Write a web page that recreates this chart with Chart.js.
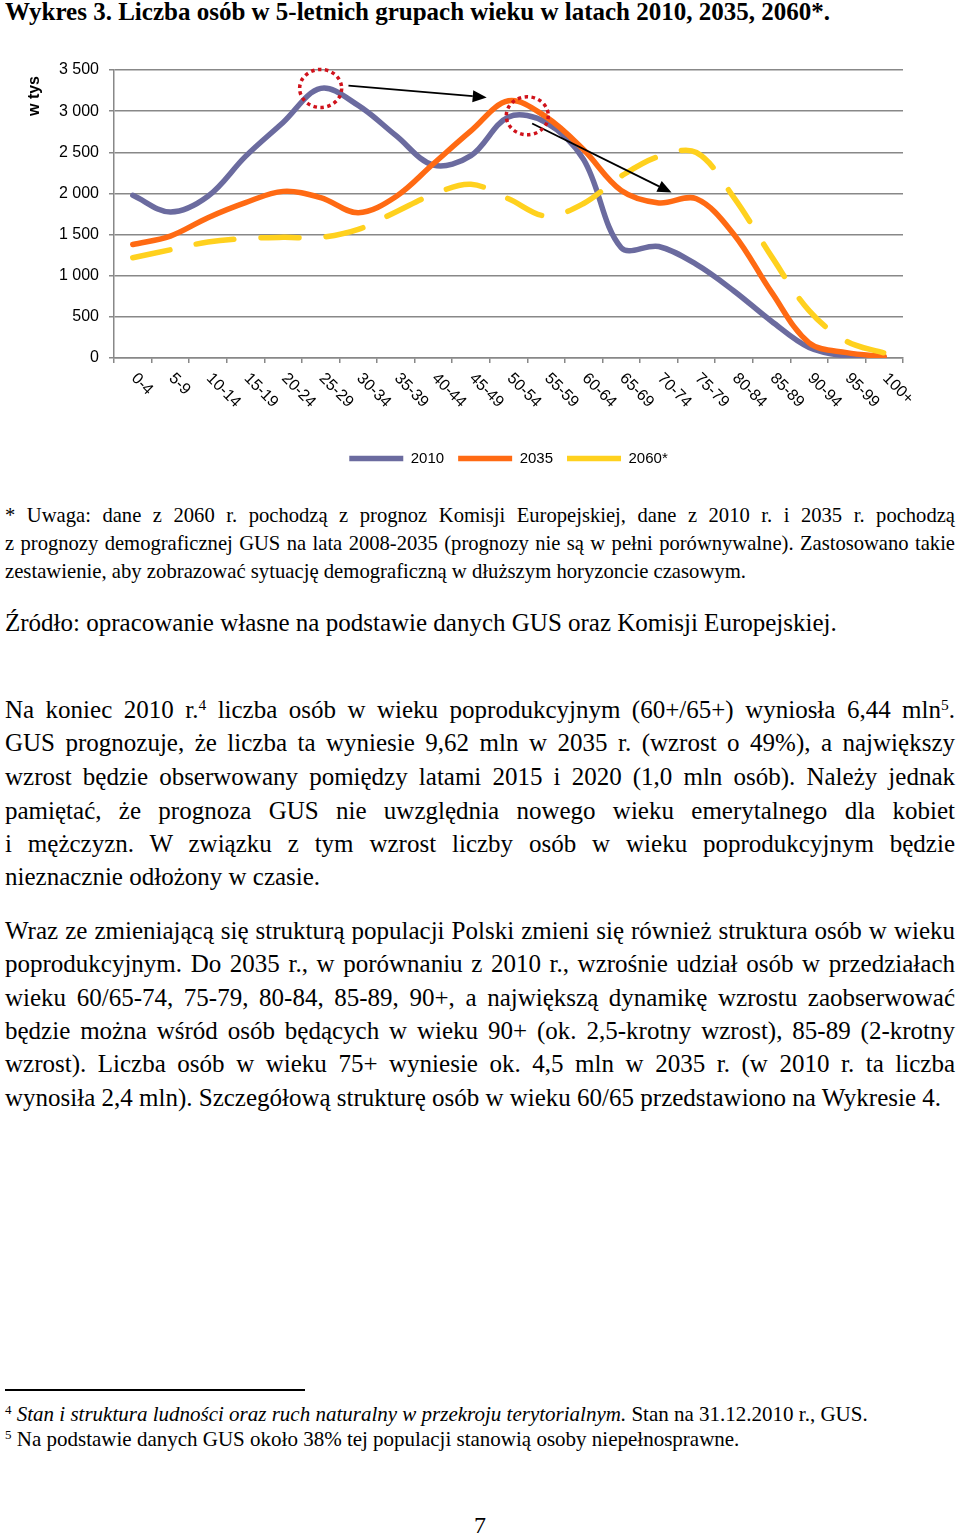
<!DOCTYPE html>
<html>
<head>
<meta charset="utf-8">
<script src="https://cdn.jsdelivr.net/npm/chart.js@4.4.0/dist/chart.umd.min.js"></script>
<style>
  html, body { margin:0; padding:0; background:#fff; }
  body { width:960px; height:1533px; position:relative; overflow:hidden; }
  #wrap { position:absolute; left:0; top:40px; width:960px; height:440px; }
  .ln { position:absolute; left:5px; width:950px; font-family:'Liberation Serif','Times New Roman',serif; color:#000; white-space:normal; }
  .j { text-align:justify; text-align-last:justify; }
  .ln sup { font-size:0.62em; vertical-align:0; position:relative; top:-0.55em; line-height:0; }
  #rule { position:absolute; left:5px; top:1389px; width:300px; height:1.5px; background:#000; }
</style>
</head>
<body>
<div id="wrap"><canvas id="c"></canvas></div>
<div id="rule"></div>
<div id="text"></div>
<script>
// ---- chart data ----
const categories = ['0-4','5-9','10-14','15-19','20-24','25-29','30-34','35-39','40-44','45-49','50-54','55-59','60-64','65-69','70-74','75-79','80-84','85-89','90-94','95-99','100+'];
const seriesLabels = ['2010','2035','2060*'];
const values2010 = [1977,1775,1965,2450,2862,3276,3070,2705,2345,2460,2930,2862,2410,1340,1355,1137,815,447,128,24,6];
const values2035 = [1380,1482,1705,1888,2025,1949,1766,1960,2360,2760,3126,2930,2530,2035,1885,1935,1502,800,185,65,18];
const values2060 = [1218,1315,1410,1453,1466,1466,1563,1775,1989,2111,1935,1725,1878,2210,2450,2497,1949,1235,575,203,61];
const yTickValues = [0,500,1000,1500,2000,2500,3000,3500];
const yAxisTitle = 'w tys';
// annotations (category index, value in thousands)
const highlightCircles = [{x:5, y:3276}, {x:10.5, y:2944}];
const arrowFrom = [[5.74,3309],[10.63,2850]];
const arrowTo = [[9.42,3167],[14.34,2010]];

function fmt(v){
  if (v >= 1000) return Math.floor(v/1000) + ' ' + String(v % 1000).padStart(3,'0');
  return String(v);
}

const xLabelPlugin = {
  id:'xLabels',
  afterDraw(chart){
    const {ctx, scales:{x, y}} = chart;
    ctx.save();
    ctx.font = '16px "Liberation Sans", Arial, sans-serif';
    ctx.fillStyle = '#000';
    ctx.textAlign = 'left';
    ctx.textBaseline = 'middle';
    categories.forEach((c,i)=>{
      const px = x.getPixelForValue(i);
      ctx.save();
      ctx.translate(px + 1, x.top + 18);
      ctx.rotate(Math.PI/4);
      ctx.fillText(c, 0, 0);
      ctx.restore();
    });
    // y axis title
    ctx.save();
    ctx.font = 'bold 16px "Liberation Sans", Arial, sans-serif';
    ctx.textAlign = 'center';
    ctx.textBaseline = 'middle';
    ctx.translate(y.left + 35, chart.chartArea.top + 26);
    ctx.rotate(-Math.PI/2);
    ctx.fillText(yAxisTitle, 0, 0);
    ctx.restore();
    ctx.restore();
  }
};

const overlayPlugin = {
  id:'overlay',
  afterDatasetsDraw(chart){
    const {ctx, scales:{x, y}} = chart;
    ctx.save();
    ctx.strokeStyle = '#000';
    ctx.fillStyle = '#000';
    ctx.lineWidth = 1.8;
    arrowFrom.forEach((f, k)=>{
      const t = arrowTo[k];
      const x1 = x.getPixelForValue(f[0]), y1 = y.getPixelForValue(f[1]);
      const x2 = x.getPixelForValue(t[0]), y2 = y.getPixelForValue(t[1]);
      const ang = Math.atan2(y2-y1, x2-x1);
      const L = 14, W = 6;
      const bx = x2 - L*Math.cos(ang), by = y2 - L*Math.sin(ang);
      ctx.beginPath(); ctx.moveTo(x1,y1); ctx.lineTo(bx,by); ctx.stroke();
      ctx.beginPath();
      ctx.moveTo(x2,y2);
      ctx.lineTo(bx + W*Math.sin(ang), by - W*Math.cos(ang));
      ctx.lineTo(bx - W*Math.sin(ang), by + W*Math.cos(ang));
      ctx.closePath(); ctx.fill();
    });
    ctx.strokeStyle = '#D0121B';
    ctx.lineWidth = 3.5;
    ctx.setLineDash([3.5,3.5]);
    highlightCircles.forEach(h=>{
      const cx = x.getPixelForValue(h.x), cy = y.getPixelForValue(h.y);
      ctx.beginPath(); ctx.ellipse(cx, cy, 21, 19, 0, 0, Math.PI*2); ctx.stroke();
    });
    ctx.restore();
  }
};

Chart.defaults.font.family = '"Liberation Sans", Arial, sans-serif';
Chart.defaults.color = '#000';

const common = { pointRadius:0, pointHoverRadius:0, fill:false, tension:0.35, borderWidth:5.5, borderCapStyle:'round', borderJoinStyle:'round' };

new Chart(document.getElementById('c'), {
  type:'line',
  data:{
    labels: categories,
    datasets:[
      Object.assign({}, common, {label:seriesLabels[0], data:values2010, borderColor:'#6B6B9F', backgroundColor:'#6B6B9F', order:3}),
      Object.assign({}, common, {label:seriesLabels[1], data:values2035, borderColor:'#FF6A13', backgroundColor:'#FF6A13', order:2}),
      Object.assign({}, common, {label:seriesLabels[2], data:values2060, borderColor:'#FFD11E', backgroundColor:'#FFD11E', borderDash:[38,27], order:1})
    ]
  },
  options:{
    responsive:true,
    maintainAspectRatio:false,
    animation:false,
    layout:{ padding:{ left:0, top:30, right:57, bottom:4 } },
    plugins:{
      tooltip:{ enabled:false },
      legend:{
        position:'bottom',
        fullSize:false,
        labels:{
          usePointStyle:true,
          pointStyle:'line',
          pointStyleWidth:54,
          boxHeight:15,
          padding:14,
          color:'#000',
          font:{ size:15, family:'"Liberation Sans", Arial, sans-serif' },
          sort:(a,b)=>a.datasetIndex - b.datasetIndex
        }
      }
    },
    scales:{
      x:{
        type:'category',
        offset:true,
        grid:{ display:true, drawOnChartArea:false, drawTicks:true, tickLength:5, offset:true, color:'#888', lineWidth:1.5 },
        border:{ display:true, color:'#888', width:1.5 },
        ticks:{ display:false },
        afterFit(s){ s.height = 79; }
      },
      y:{
        min:0, max:3500,
        afterBuildTicks(s){ s.ticks = yTickValues.map(v=>({value:v})); },
        ticks:{ font:{ size:16 }, color:'#000', padding:10, callback:(v)=>fmt(v) },
        grid:{ color:'#888', lineWidth:1.5, tickLength:5 },
        border:{ display:true, color:'#888', width:1.5 },
        afterFit(s){ s.width = 114; }
      }
    }
  },
  plugins:[overlayPlugin, xLabelPlugin]
});

// ---- page text ----
const textLines = [
  {y:12, s:25, b:true, h:'Wykres 3. Liczba osób w 5-letnich grupach wieku w latach 2010, 2035, 2060*.'},
  {y:516, s:20.6, j:true, h:'* Uwaga: dane z 2060 r. pochodzą z prognoz Komisji Europejskiej, dane z 2010 r. i 2035 r. pochodzą'},
  {y:544, s:20.6, j:true, h:'z prognozy demograficznej GUS na lata 2008-2035 (prognozy nie są w pełni porównywalne). Zastosowano takie'},
  {y:572, s:20.7, h:'zestawienie, aby zobrazować sytuację demograficzną w dłuższym horyzoncie czasowym.'},
  {y:623, s:25, h:'Źródło: opracowanie własne na podstawie danych GUS oraz Komisji Europejskiej.'},
  {y:710, s:25, j:true, h:'Na koniec 2010 r.<sup>4</sup> liczba osób w wieku poprodukcyjnym (60+/65+) wyniosła 6,44 mln<sup>5</sup>.'},
  {y:743, s:25, j:true, h:'GUS prognozuje, że liczba ta wyniesie 9,62 mln w 2035 r. (wzrost o 49%), a największy'},
  {y:777, s:25, j:true, h:'wzrost będzie obserwowany pomiędzy latami 2015 i 2020 (1,0 mln osób). Należy jednak'},
  {y:811, s:25, j:true, h:'pamiętać, że prognoza GUS nie uwzględnia nowego wieku emerytalnego dla kobiet'},
  {y:844, s:25, j:true, h:'i mężczyzn. W związku z tym wzrost liczby osób w wieku poprodukcyjnym będzie'},
  {y:877, s:25, h:'nieznacznie odłożony w czasie.'},
  {y:931, s:25, j:true, h:'Wraz ze zmieniającą się strukturą populacji Polski zmieni się również struktura osób w wieku'},
  {y:964, s:25, j:true, h:'poprodukcyjnym. Do 2035 r., w porównaniu z 2010 r., wzrośnie udział osób w przedziałach'},
  {y:998, s:25, j:true, h:'wieku 60/65-74, 75-79, 80-84, 85-89, 90+, a największą dynamikę wzrostu zaobserwować'},
  {y:1031, s:25, j:true, h:'będzie można wśród osób będących w wieku 90+ (ok. 2,5-krotny wzrost), 85-89 (2-krotny'},
  {y:1064, s:25, j:true, h:'wzrost). Liczba osób w wieku 75+ wyniesie ok. 4,5 mln w 2035 r. (w 2010 r. ta liczba'},
  {y:1098, s:25, h:'wynosiła 2,4 mln). Szczegółową strukturę osób w wieku 60/65 przedstawiono na Wykresie 4.'},
  {y:1415, s:21, h:'<sup>4</sup> <i>Stan i struktura ludności oraz ruch naturalny w przekroju terytorialnym.</i> Stan na 31.12.2010 r., GUS.'},
  {y:1440, s:21, h:'<sup>5</sup> Na podstawie danych GUS około 38% tej populacji stanowią osoby niepełnosprawne.'},
  {y:1525, s:24, c:true, h:'7'}
];
const host = document.getElementById('text');
textLines.forEach(t=>{
  const d = document.createElement('div');
  d.className = 'ln' + (t.j ? ' j' : '');
  d.style.fontSize = t.s + 'px';
  d.style.lineHeight = t.s + 'px';
  d.style.top = (t.y - 0.51*t.s) + 'px';
  if (t.b) d.style.fontWeight = 'bold';
  if (t.c) { d.style.left = '0px'; d.style.width = '960px'; d.style.textAlign = 'center'; }
  d.innerHTML = t.h;
  host.appendChild(d);
});
</script>
</body>
</html>
